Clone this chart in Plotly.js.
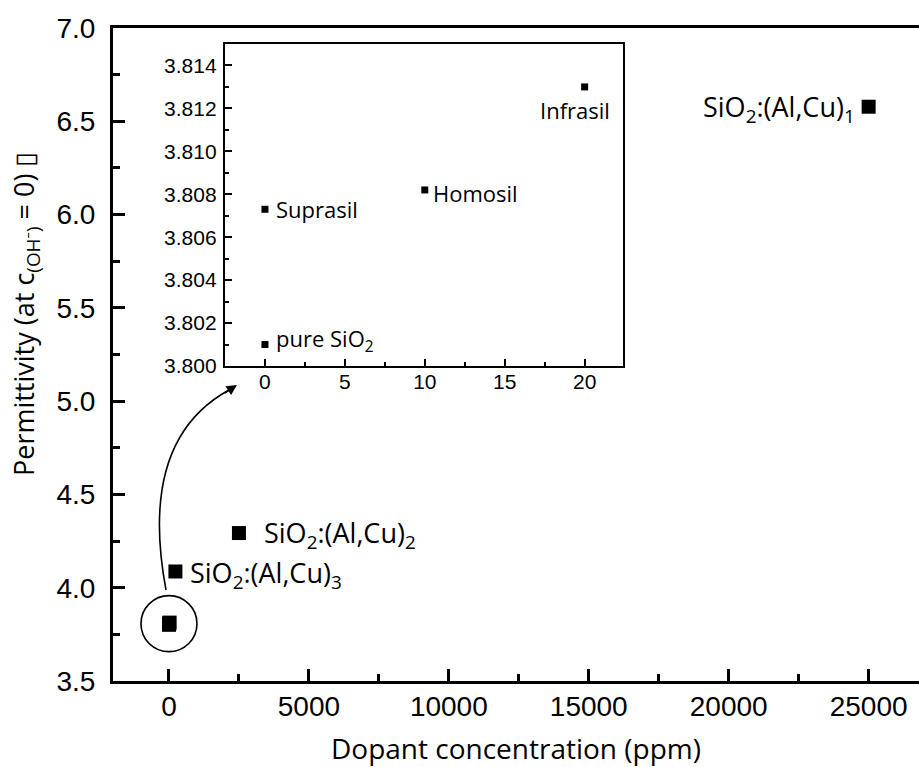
<!DOCTYPE html>
<html>
<head>
<meta charset="utf-8">
<script src="https://cdn.plot.ly/plotly-3.0.1.min.js"></script>
<style>
html,body{margin:0;padding:0;background:#fff;}
#chart{width:919px;height:767px;}
</style>
</head>
<body>
<div id="chart"></div>
<script>
// ---- data ----
const insetNames = ['pure SiO<sub>2</sub>', 'Suprasil', 'Homosil', 'Infrasil'];
const insetX = [0, 0, 10, 20];            // ppm
const insetY = [3.8010, 3.8073, 3.8082, 3.8130];
const dopedNames = ['SiO<sub>2</sub>:(Al,Cu)<sub>3</sub>', 'SiO<sub>2</sub>:(Al,Cu)<sub>2</sub>', 'SiO<sub>2</sub>:(Al,Cu)<sub>1</sub>'];
const dopedX = [230, 2500, 25000];        // ppm
const dopedY = [4.087, 4.293, 6.578];
const xTitle = 'Dopant concentration (ppm)';
const yTitle = 'Permittivity (at c<sub>(OH⁻)</sub> = 0) ▯';

// ---- geometry helpers (main plot area in pixels) ----
const W = 919, H = 767;
const L = 113, R = 919, T = 28, B = 681;
const fx = p => (p - L) / (R - L);
const fy = p => (B - p) / (B - T);

const tickFont = {family: 'Liberation Sans, Arial, sans-serif', size: 28, color: '#000'};
const insetTickFont = {family: 'Liberation Sans, Arial, sans-serif', size: 21, color: '#000'};
const textFamily = 'Open Sans, Noto Sans, sans-serif';

const mainTrace = {
  x: insetX.concat(dopedX),
  y: insetY.concat(dopedY),
  type: 'scatter', mode: 'markers',
  marker: {symbol: 'square', size: 14, color: '#000'},
  xaxis: 'x', yaxis: 'y', hoverinfo: 'x+y', showlegend: false
};
const insetTrace = {
  x: insetX, y: insetY,
  type: 'scatter', mode: 'markers',
  marker: {symbol: 'square', size: 7, color: '#000'},
  xaxis: 'x2', yaxis: 'y2', hoverinfo: 'x+y', showlegend: false
};

// label placement offsets (pixels)
const insetOffsets = [
  {xanchor: 'left', xshift: 9, yshift: 5},
  {xanchor: 'left', xshift: 9, yshift: 0},
  {xanchor: 'left', xshift: 6, yshift: -3},
  {xanchor: 'center', xshift: -10, yshift: -23}
];
const dopedOffsets = [
  {xanchor: 'left', xshift: 14, yshift: -3},
  {xanchor: 'left', xshift: 24, yshift: -1},
  {xanchor: 'right', xshift: -13, yshift: -2}
];

const annotations = [];
insetNames.forEach((n, i) => {
  annotations.push(Object.assign({
    x: insetX[i], y: insetY[i], xref: 'x2', yref: 'y2', text: n, showarrow: false,
    yanchor: 'middle', font: {family: textFamily, size: 22, color: '#000'}
  }, insetOffsets[i]));
});
dopedNames.forEach((n, i) => {
  annotations.push(Object.assign({
    x: dopedX[i], y: dopedY[i], xref: 'x', yref: 'y', text: n, showarrow: false,
    yanchor: 'middle', borderpad: 0, font: {family: textFamily, size: 27, color: '#000'}
  }, dopedOffsets[i]));
});
// y axis title (rotated, offset upward as in reference)
annotations.push({
  x: fx(25), y: fy(314), xref: 'paper', yref: 'paper', text: yTitle, textangle: -90,
  showarrow: false, xanchor: 'center', yanchor: 'middle',
  font: {family: textFamily, size: 27, color: '#000'}
});
// arrow head at the end of the curved arrow
const tip = [237, 385];
annotations.push({
  x: fx(tip[0]), y: fy(tip[1]), xref: 'paper', yref: 'paper', text: '', showarrow: true,
  arrowhead: 2, arrowsize: 1.3, arrowwidth: 1.6, arrowcolor: '#000', ax: -14, ay: 9
});

const cMeanY = insetY.reduce((a, b) => a + b, 0) / insetY.length;
const shapes = [
  {type: 'circle', xref: 'x', yref: 'y', xsizemode: 'pixel', ysizemode: 'pixel',
   xanchor: insetX[0], yanchor: cMeanY, x0: -28, x1: 28, y0: -28, y1: 28,
   line: {color: '#000', width: 1.6}},
  {type: 'path', xref: 'paper', yref: 'paper',
   path: 'M ' + fx(166) + ',' + fy(590) + ' Q ' + fx(138) + ',' + fy(440) + ' ' + fx(229) + ',' + fy(390),
   line: {color: '#000', width: 1.6}}
];

const layout = {
  width: W, height: H,
  margin: {l: L, r: W - R, t: T, b: H - B, pad: 0},
  paper_bgcolor: '#fff', plot_bgcolor: '#fff',
  showlegend: false,
  xaxis: {
    range: [-2000, 26800], domain: [0, 1], anchor: 'y',
    showgrid: false, zeroline: false, showline: true, linecolor: '#000', linewidth: 3, mirror: true,
    ticks: 'inside', ticklen: 12, tickwidth: 3, tickcolor: '#000',
    tick0: 0, dtick: 5000, tickformat: 'd',
    minor: {ticks: 'inside', ticklen: 7, tickwidth: 3, tickcolor: '#000', dtick: 2500, tick0: 0, showgrid: false},
    tickfont: tickFont, ticklabelstandoff: -2, automargin: false,
    title: {text: xTitle, font: {family: textFamily, size: 28, color: '#000'}, standoff: 20}
  },
  yaxis: {
    range: [3.5, 7.0], domain: [0, 1], anchor: 'x',
    showgrid: false, zeroline: false, showline: true, linecolor: '#000', linewidth: 3, mirror: false,
    ticks: 'inside', ticklen: 12, tickwidth: 3, tickcolor: '#000',
    tick0: 3.5, dtick: 0.5, tickformat: '.1f',
    minor: {ticks: 'inside', ticklen: 7, tickwidth: 3, tickcolor: '#000', dtick: 0.25, tick0: 3.5, showgrid: false},
    tickfont: tickFont, ticklabelstandoff: 9, automargin: false
  },
  xaxis2: {
    range: [-2.5, 22.4], domain: [fx(225), fx(623)], anchor: 'y2',
    showgrid: false, zeroline: false, showline: true, linecolor: '#000', linewidth: 2.2, mirror: true,
    ticks: 'inside', ticklen: 7, tickwidth: 2, tickcolor: '#000',
    tick0: 0, dtick: 5,
    minor: {ticks: 'inside', ticklen: 4, tickwidth: 2, tickcolor: '#000', dtick: 2.5, tick0: 0, showgrid: false},
    tickfont: insetTickFont, ticklabelstandoff: -4, automargin: false
  },
  yaxis2: {
    range: [3.800, 3.815], domain: [fy(366), fy(44)], anchor: 'x2',
    showgrid: false, zeroline: false, showline: true, linecolor: '#000', linewidth: 2.2, mirror: true,
    ticks: 'inside', ticklen: 7, tickwidth: 2, tickcolor: '#000',
    tick0: 3.8, dtick: 0.002, tickformat: '.3f',
    minor: {ticks: 'inside', ticklen: 4, tickwidth: 2, tickcolor: '#000', dtick: 0.001, tick0: 3.8, showgrid: false},
    tickfont: insetTickFont, ticklabelstandoff: 2, automargin: false
  },
  annotations: annotations,
  shapes: shapes
};

Plotly.newPlot('chart', [mainTrace, insetTrace], layout, {displayModeBar: false, staticPlot: true});
</script>
</body>
</html>
